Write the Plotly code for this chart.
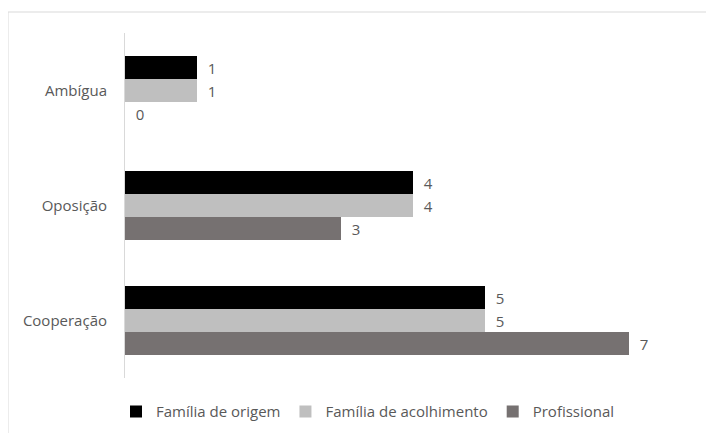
import plotly.graph_objects as go

categories = ["Ambígua", "Oposição", "Cooperação"]
series_names = ["Família de origem", "Família de acolhimento", "Profissional"]
familia_origem = [1, 4, 5]
familia_acolhimento = [1, 4, 5]
profissional = [0, 3, 7]
colors = ["#000000", "#bfbfbf", "#767171"]

FONT = "Open Sans"
FS = 15
GREY = "#595959"

# page is rendered with an 8px body margin; figure coords = page coords - 8
L, R, T, B = 117, 13, 25, 55
W, H = 706, 425
PW, PH = W - L - R, H - T - B

fig = go.Figure()
for name, vals, col in zip(series_names, [familia_origem, familia_acolhimento, profissional], colors):
    fig.add_trace(go.Bar(
        y=categories, x=vals, name=name, orientation="h",
        marker=dict(color=col, line=dict(width=0)),
        texttemplate="\u00a0\u00a0%{x}", textposition="outside",
        textfont=dict(family=FONT, size=FS, color=GREY),
        outsidetextfont=dict(family=FONT, size=FS, color=GREY),
        cliponaxis=False,
    ))

fig.update_layout(
    width=W, height=H,
    paper_bgcolor="white", plot_bgcolor="white",
    margin=dict(l=L, r=R, t=T, b=B, autoexpand=False),
    barmode="group", bargap=0.4, bargroupgap=0,
    font=dict(family=FONT, size=FS, color=GREY),
    showlegend=True,
    legend=dict(orientation="h", x=(360 - L) / PW, xanchor="center", y=-0.05, yanchor="top",
                font=dict(family=FONT, size=FS, color=GREY), itemwidth=30,
                traceorder="normal"),
    xaxis=dict(range=[0, 8], showgrid=False, showticklabels=False, zeroline=False,
               showline=False, automargin=False),
    yaxis=dict(autorange="reversed", showgrid=False, showline=True, linecolor="#d9d9d9",
               linewidth=1, ticks="", ticklabelstandoff=14, automargin=False,
               tickfont=dict(family=FONT, size=FS, color=GREY)),
    shapes=[dict(type="rect", xref="paper", yref="paper",
                 x0=(0 - L) / PW, x1=(705 - L) / PW,
                 y0=-0.3, y1=(H - B - 4) / PH,
                 line=dict(color="#d9d9d9", width=1), layer="below")],
)

fig.write_html("out.html")
